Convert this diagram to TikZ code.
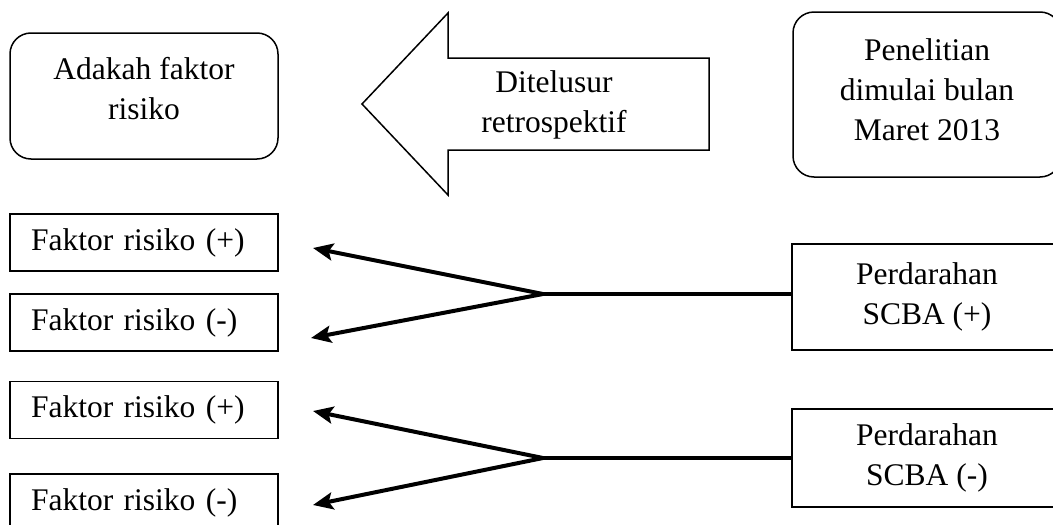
\documentclass[tikz,border=0pt]{standalone}
\usepackage{fontspec}
\setmainfont{Liberation Serif}
\usetikzlibrary{arrows.meta}

\begin{document}
\begin{tikzpicture}[x=1pt,y=-1pt,>={Stealth[length=20pt,width=17pt,inset=4pt]},
  line width=4pt,
  every node/.style={font=\fontsize{31.5}{40}\selectfont,line width=1.5pt},
  round box/.style={draw,rounded corners=21pt,minimum width=268pt},
  risk box/.style={draw,text width=226pt,inner xsep=21pt,minimum height=57pt,align=left},
  scba box/.style={draw,minimum width=270pt,align=center}]
  \useasboundingbox (0,0) rectangle (1053,525);
  % top row
  \node[round box, minimum height=126pt] (adakah) at (144,96) {};
  \node[align=center, yshift=7pt] (adakah text) at (adakah.center) {Adakah faktor\\risiko};
  \node[round box, minimum height=165pt] (mulai) at (927,94.5) {};
  \node[align=center, yshift=5pt] (mulai text) at (mulai.center) {Penelitian\\dimulai bulan\\Maret 2013};
  \draw[line width=1.5pt] (709,58) -- (448,58) -- (448,13) -- (362,104) -- (448,195)
    -- (448,150) -- (709,150) -- cycle;
  \node[align=center] (telusur) at (554,105) {Ditelusur\\retrospektif};
  % faktor risiko
  \node[risk box] (f1) at (144,242.5) {Faktor risiko (+)};
  \node[risk box] (f2) at (144,322.5) {Faktor risiko (-)};
  \node[risk box] (f3) at (144,410) {Faktor risiko (+)};
  \node[risk box] (f4) at (144,502.5) {Faktor risiko (-)};
  % perdarahan
  \node[scba box, minimum height=106pt] (s1) at (927,297) {Perdarahan\\SCBA (+)};
  \node[scba box, minimum height=98pt] (s2) at (927,458) {Perdarahan\\SCBA (-)};
  \coordinate (j1) at (543,294);
  \coordinate (j2) at (543,458);
  \coordinate (t1) at (313,248);
  \coordinate (t2) at (311,338);
  \coordinate (t3) at (313,411);
  \coordinate (t4) at (313,505);
  \path[draw]
    (j1 -| s1.west) edge (j1)
    (j1) edge[->] (t1)
         edge[->] (t2)
    (j2 -| s2.west) edge (j2)
    (j2) edge[->] (t3)
         edge[->] (t4);
\end{tikzpicture}
\end{document}
